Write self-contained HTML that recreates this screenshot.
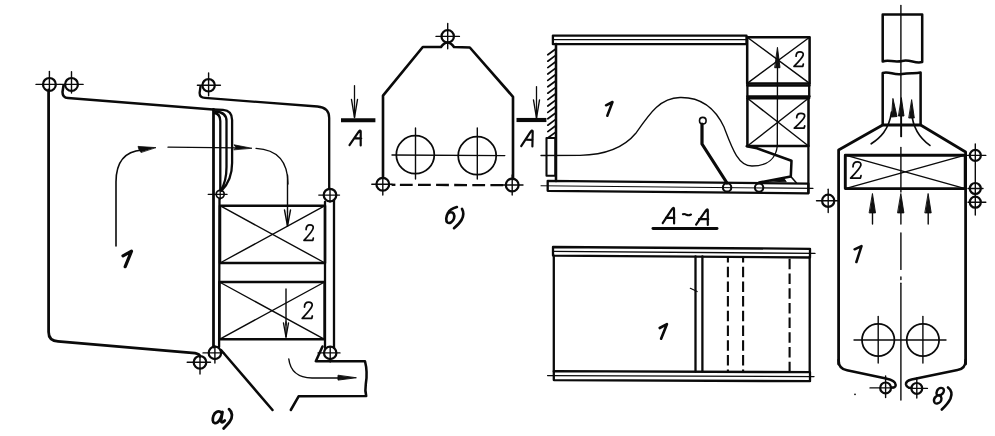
<!DOCTYPE html>
<html><head><meta charset="utf-8"><style>
html,body{margin:0;padding:0;background:#fff;}
svg{display:block;}
text{font-family:"Liberation Sans",sans-serif;}
</style></head><body>
<svg width="995" height="436" viewBox="0 0 995 436">
<rect width="995" height="436" fill="#fff"/>
<g fill="none" stroke="#0a0a0a" stroke-linecap="round" stroke-linejoin="round">
<circle cx="49.4" cy="84.4" r="6.4" stroke-width="2.24"/>
<line x1="36" y1="84.4" x2="60" y2="84.4" stroke-width="1.4" />
<line x1="49.4" y1="71.4" x2="49.4" y2="90" stroke-width="1.4" />
<circle cx="71.5" cy="84.4" r="6.4" stroke-width="2.24"/>
<line x1="60" y1="84.4" x2="83.1" y2="84.4" stroke-width="1.4" />
<line x1="71.5" y1="71.7" x2="71.5" y2="93" stroke-width="1.4" />
<path d="M48.6 90 L48.6 332 Q48.6 341 58 341.3 L195 353.2 Q199.5 354 200 356.5" stroke-width="2.76" />
<path d="M63.5 85.5 L62.5 92 Q62.5 97.8 68 98 L213 109.4" stroke-width="2.53" />
<circle cx="208.6" cy="85.3" r="6.2" stroke-width="2.24"/>
<line x1="197.4" y1="85.3" x2="220.4" y2="85.3" stroke-width="1.4" />
<line x1="208.6" y1="73" x2="208.6" y2="95.8" stroke-width="1.4" />
<path d="M200.5 86.5 L199.6 93 Q199.6 97.7 205 97.9 L317.5 106.5 Q329.2 107.4 329.2 118 L329.2 189" stroke-width="2.3" />
<line x1="213.5" y1="109.5" x2="213.5" y2="347" stroke-width="2.76" />
<path d="M213.5 109.5 L223 109.9 Q232.1 110.6 232.1 120 L232.1 163 Q232.1 180 221.5 190.8" stroke-width="2.3" />
<path d="M215.5 111.5 Q226.5 112.2 226.5 121 L226.5 167 Q226.5 181 221 190.3" stroke-width="2.3" />
<path d="M214.5 113 Q220.3 114 220.3 121 L220.3 190" stroke-width="2.3" />
<circle cx="220.2" cy="194.3" r="4.0" stroke-width="1.7"/>
<line x1="208.2" y1="194.3" x2="227.1" y2="194.3" stroke-width="1.3" />
<line x1="220.2" y1="189" x2="220.2" y2="199" stroke-width="1.3" />
<circle cx="330" cy="195.1" r="6.3" stroke-width="2.24"/>
<line x1="318.8" y1="195.1" x2="339.5" y2="195.1" stroke-width="1.4" />
<line x1="330" y1="189" x2="330" y2="202" stroke-width="1.4" />
<line x1="219.5" y1="199" x2="219.1" y2="347" stroke-width="2.3" />
<line x1="325" y1="202" x2="325" y2="348" stroke-width="2.3" />
<line x1="334" y1="200" x2="334" y2="348" stroke-width="2.3" />
<rect x="220" y="205.7" width="105" height="57.3" stroke-width="2.53"/>
<line x1="220" y1="205.7" x2="325" y2="263" stroke-width="1.4" />
<line x1="325" y1="205.7" x2="220" y2="263" stroke-width="1.4" />
<rect x="219.4" y="282" width="105.2" height="57.3" stroke-width="2.53"/>
<line x1="219.4" y1="282" x2="324.6" y2="339.3" stroke-width="1.4" />
<line x1="324.6" y1="282" x2="219.4" y2="339.3" stroke-width="1.4" />
<line x1="287.5" y1="175" x2="287.5" y2="212" stroke-width="1.4" />
<path d="M284.5 210.0 L287.5 226.0 L290.5 210.0" stroke-width="1.4"/>
<line x1="287.5" y1="212" x2="287.5" y2="226" stroke-width="1.4" />
<line x1="286" y1="289" x2="286" y2="325" stroke-width="1.4" />
<path d="M283.5 323.0 L286.0 337.0 L288.5 323.0" stroke-width="1.4"/>
<line x1="286" y1="322" x2="286" y2="337" stroke-width="1.4" />
<path d="M306.1 229.6 C306.1 226.5 308.0 224.9 310.0 224.9 C312.1 224.9 313.5 225.8 313.2 228.0 C312.8 230.8 308.3 235.8 304.0 240.4 L312.8 240.4 L313.3 238.1" stroke-width="1.75" />
<path d="M304.5 307.1 C304.5 303.8 306.6 302.2 308.8 302.2 C310.9 302.2 312.5 303.2 312.2 305.4 C311.8 308.4 306.9 313.5 302.2 318.4 L311.8 318.4 L312.3 316.0" stroke-width="1.75" />
<circle cx="214.9" cy="352.9" r="6.2" stroke-width="2.24"/>
<line x1="203" y1="352.9" x2="224" y2="352.9" stroke-width="1.4" />
<line x1="214.9" y1="346" x2="214.9" y2="363" stroke-width="1.4" />
<circle cx="200" cy="362.3" r="6.3" stroke-width="2.24"/>
<line x1="187.2" y1="362.3" x2="210.5" y2="362.3" stroke-width="1.4" />
<line x1="200" y1="356" x2="200" y2="374" stroke-width="1.4" />
<circle cx="330.2" cy="352.9" r="6.2" stroke-width="2.24"/>
<line x1="318" y1="352.9" x2="340" y2="352.9" stroke-width="1.4" />
<line x1="330.2" y1="347" x2="330.2" y2="362" stroke-width="1.4" />
<path d="M322.5 346.5 L315.8 361.2 L365 361.2 Q367.8 372 365.8 384 Q364.8 391 366.2 396 L298.6 396.3 L290.8 410" stroke-width="2.53" />
<line x1="221" y1="350" x2="272.5" y2="410" stroke-width="2.53" />
<path d="M288.8 359 Q291 377.5 312 378 L345 378" stroke-width="1.4" />
<path d="M356.0 377.8 L338.0 380.1 L338.0 375.6 Z" fill="#111" stroke-width="0.92"/>
<path d="M116 246 L116 182 Q116 152 142 150" stroke-width="1.6" />
<path d="M155.6 147.6 L138 146.4 L139 149.5 L140.8 152.2 Z" stroke-width="0.8" fill="#0a0a0a"/>
<path d="M168 147.2 L236 147.8" stroke-width="1.3" />
<path d="M251.6 148.2 L234 144.8 L236 147.5 L234 149.6 Z" stroke-width="0.8" fill="#0a0a0a"/>
<path d="M256 148.3 Q288 150 288 184" stroke-width="1.3" />
<path d="M123 255.8 L131.5 251.2 L125.2 266.7" stroke-width="3.22" />
<path d="M222.3 414 C221 411.5 218.5 411 216.5 412 C213.5 413.5 212.5 418 212.8 420.5 C213 423.2 215.5 423.8 217.5 422.3 C219.5 420.8 221.5 417 222.5 412 L221.2 419.5 C220.8 422.5 222 423.5 224.8 420.5" stroke-width="2.76" />
<path d="M229 409.2 C232.5 412 233.2 417.5 229.5 422 C227.5 424.5 225.5 426.5 223.6 428.5" stroke-width="2.76" />
<line x1="341" y1="120.3" x2="375.4" y2="120.3" stroke-width="3.91" stroke-linecap="butt"/>
<line x1="354.5" y1="85.7" x2="354.5" y2="117.5" stroke-width="1.3" />
<path d="M351.5 99.5 L354.5 117.5 L357.5 99.5" stroke-width="1.4"/>
<path d="M349.5 145.1 L358.2 132.4 Q360.4 129.3 360.7 131.4 L360.7 145.4 M354.3 138.2 L361.2 138.5" stroke-width="2.18" />
<line x1="516.5" y1="120" x2="546.4" y2="120" stroke-width="4.14" stroke-linecap="butt"/>
<line x1="536.5" y1="86.7" x2="536.5" y2="118" stroke-width="1.3" />
<path d="M533.5 100.0 L536.5 118.0 L539.5 100.0" stroke-width="1.4"/>
<path d="M521.2 146.2 L530.1999999999999 132.4 Q532.4 129.3 532.6999999999999 131.4 L532.4 146.5 M526.6 139.6 L532.7 139.8" stroke-width="2.18" />
<path d="M383 178 L383 95.7 L422.8 47 L441 47 Q447.5 38 454 47 L469.8 47.5 L513 96.8 L513 179" stroke-width="2.64" />
<circle cx="447.7" cy="36.4" r="6.2" stroke-width="2.24"/>
<line x1="436" y1="36.4" x2="459.4" y2="36.4" stroke-width="1.4" />
<line x1="447.7" y1="23.4" x2="447.7" y2="48.7" stroke-width="1.4" />
<circle cx="415.3" cy="154.7" r="19.0" stroke-width="1.75"/>
<circle cx="477.2" cy="155.7" r="19.0" stroke-width="1.75"/>
<line x1="392" y1="155" x2="504.8" y2="155.6" stroke-width="1.4" />
<line x1="415.5" y1="128" x2="415.5" y2="179" stroke-width="1.4" />
<line x1="477.3" y1="128" x2="477.3" y2="179" stroke-width="1.4" />
<circle cx="382.8" cy="184.2" r="6.4" stroke-width="2.24"/>
<line x1="371.8" y1="184.2" x2="392" y2="184.2" stroke-width="1.4" />
<line x1="382.8" y1="175" x2="382.8" y2="195" stroke-width="1.4" />
<circle cx="512.2" cy="185" r="6.4" stroke-width="2.24"/>
<line x1="503" y1="185" x2="523" y2="185" stroke-width="1.4" />
<line x1="512.2" y1="175" x2="512.2" y2="195" stroke-width="1.4" />
<line x1="391.6" y1="184.8" x2="395.4" y2="184.8" stroke-width="2.3" stroke-linecap="butt"/>
<line x1="399.9" y1="184.9" x2="504" y2="185.1" stroke-width="2.3" stroke-linecap="butt" stroke-dasharray="12.8 5.3"/>
<path d="M456.9 207 C453 208 449.5 209.5 448 213 C446 216.5 445.5 221 447.5 222.5 C449.5 223.8 453 222 454 218.5 C455 215 453.5 212 450.5 212.3 C449 212.5 448 213.5 448 213.5" stroke-width="2.64" />
<path d="M462 208.8 C463.8 212 463.8 216 461.5 220 C459.5 223.5 456.5 226 454 228.2" stroke-width="2.64" />
<rect x="552.9" y="35.6" width="193.6" height="8.6" stroke-width="2.30"/>
<line x1="552.9" y1="39.6" x2="746.4" y2="39.6" stroke-width="1.3" />
<line x1="556" y1="44" x2="556" y2="181" stroke-width="2.53" />
<line x1="555.3" y1="49.2" x2="547.8" y2="54.800000000000004" stroke-width="1.7" />
<line x1="555.3" y1="55.6" x2="547.8" y2="61.2" stroke-width="1.7" />
<line x1="555.3" y1="62.0" x2="547.8" y2="67.6" stroke-width="1.7" />
<line x1="555.3" y1="68.4" x2="547.8" y2="74.0" stroke-width="1.7" />
<line x1="555.3" y1="74.80000000000001" x2="547.8" y2="80.4" stroke-width="1.7" />
<line x1="555.3" y1="81.2" x2="547.8" y2="86.8" stroke-width="1.7" />
<line x1="555.3" y1="87.60000000000001" x2="547.8" y2="93.2" stroke-width="1.7" />
<line x1="555.3" y1="94.0" x2="547.8" y2="99.6" stroke-width="1.7" />
<line x1="555.3" y1="100.4" x2="547.8" y2="106.0" stroke-width="1.7" />
<line x1="555.3" y1="106.80000000000001" x2="547.8" y2="112.4" stroke-width="1.7" />
<line x1="555.3" y1="113.2" x2="547.8" y2="118.8" stroke-width="1.7" />
<line x1="555.3" y1="119.60000000000001" x2="547.8" y2="125.2" stroke-width="1.7" />
<line x1="555.3" y1="126.00000000000001" x2="547.8" y2="131.60000000000002" stroke-width="1.7" />
<line x1="555.3" y1="132.4" x2="547.8" y2="138.0" stroke-width="1.7" />
<rect x="546.5" y="138" width="8.8" height="37.7" stroke-width="2.07"/>
<path d="M547.7 180.8 L808.4 183.6 L808.4 193.3 L547.7 190.8 Z" stroke-width="2.3" />
<path d="M541 185.8 L813 188.4" stroke-width="1.1" />
<rect x="747.2" y="37.2" width="62.4" height="46.2" stroke-width="2.53"/>
<line x1="747.2" y1="37.2" x2="809.6" y2="83.4" stroke-width="1.4" />
<line x1="809.6" y1="37.2" x2="747.2" y2="83.4" stroke-width="1.4" />
<line x1="747.2" y1="85.5" x2="809.6" y2="85.5" stroke-width="2.3" />
<line x1="747.2" y1="96.3" x2="809.6" y2="96.3" stroke-width="2.3" />
<rect x="747.4" y="98.3" width="61.1" height="47.7" stroke-width="2.53"/>
<line x1="747.4" y1="98.3" x2="808.5" y2="146" stroke-width="1.4" />
<line x1="808.5" y1="98.3" x2="747.4" y2="146" stroke-width="1.4" />
<line x1="747.4" y1="83.4" x2="747.4" y2="98.3" stroke-width="2.3" />
<line x1="809.2" y1="83.4" x2="809.2" y2="98.3" stroke-width="2.3" />
<line x1="808.4" y1="146" x2="808.4" y2="193" stroke-width="2.3" />
<path d="M746.7 146.2 L757 148.3 L791.5 160.7 L790.8 176.5 L759.1 182.5" stroke-width="2.53" />
<line x1="790.8" y1="176.5" x2="796.3" y2="182.7" stroke-width="1.6" />
<path d="M770 181 L784 178.5 L786 181.5 Z" stroke-width="1" fill="#0a0a0a"/>
<path d="M541 155.5 L580 155.3 C600 155 622 150 636 133 C650 113 660 98 680 97.5 C703 97 716 110 724 127 C732 148 738 166 752 166 C768 166 776 158 777.3 146 L777.5 62" stroke-width="1.35" />
<path d="M777.5 47.7 L780.0 67.7 L775.0 67.7 Z" fill="#111" stroke-width="0.92"/>
<circle cx="702.8" cy="120.7" r="3.3" stroke-width="1.6"/>
<path d="M702 124 L702 144 L727 183" stroke-width="3.22" />
<circle cx="727.1" cy="187.4" r="4.2" stroke-width="2.07"/>
<circle cx="759.1" cy="187.6" r="4.2" stroke-width="2.07"/>
<path d="M606 105.3 L612.5 102 L607.3 115.7" stroke-width="2.53" />
<path d="M796.1 56.2 C796.1 53.3 798.0 51.9 800.0 51.9 C802.1 51.9 803.5 52.8 803.2 54.8 C802.8 57.4 798.3 62.0 794.0 66.3 L802.8 66.3 L803.3 64.1" stroke-width="1.75" />
<path d="M796.7 117.7 C796.7 114.8 798.8 113.3 801.0 113.3 C803.3 113.3 804.9 114.2 804.6 116.3 C804.1 118.9 799.1 123.7 794.3 128.1 L804.1 128.1 L804.7 125.9" stroke-width="1.75" />
<path d="M662.7 223.1 L671.5 209.8 Q673.7 206.70000000000002 674.0 208.8 L674.1 223.5 M666 217.6 L674.4 218" stroke-width="2.18" />
<path d="M682.9 214.2 Q684.5 213.5 686.5 214.8 Q688.5 215.8 691 214.5" stroke-width="2.07" />
<path d="M696.1 224.6 L705.3 211.3 Q707.5 208.20000000000002 707.8 210.3 L707.8 225 M699 219 L708.2 219.2" stroke-width="2.18" />
<line x1="653" y1="228.5" x2="717" y2="228.5" stroke-width="2.99" />
<path d="M553 247 L810 248.8 L810 257.5 L553 255.6 Z" stroke-width="2.3" />
<line x1="553" y1="251.3" x2="815" y2="253.4" stroke-width="1.3" />
<path d="M553.8 371.2 L810 372.2 L810 381.2 L553.8 380.1 Z" stroke-width="2.3" />
<line x1="547.6" y1="375.6" x2="814" y2="376.6" stroke-width="1.4" />
<line x1="553.8" y1="255.6" x2="553.8" y2="371.6" stroke-width="2.3" />
<line x1="695.5" y1="256.5" x2="695.5" y2="371.6" stroke-width="2.3" />
<line x1="702.4" y1="256.5" x2="702.4" y2="371.6" stroke-width="2.3" />
<line x1="727.9" y1="257" x2="727.9" y2="371" stroke-width="2.1" stroke-linecap="butt" stroke-dasharray="10.5 4.2" stroke-dashoffset="5"/>
<line x1="743.1" y1="257" x2="743.1" y2="371" stroke-width="2.1" stroke-linecap="butt" stroke-dasharray="10.5 4.2" stroke-dashoffset="5"/>
<line x1="789.6" y1="258.8" x2="789.6" y2="371" stroke-width="2.1" stroke-linecap="butt" stroke-dasharray="10.5 4.2" stroke-dashoffset="0"/>
<line x1="809.7" y1="257" x2="809.7" y2="372" stroke-width="2.3" />
<line x1="690.3" y1="288.3" x2="697.2" y2="291.6" stroke-width="1.1" />
<path d="M659.7 328 L666.9 324.2 L661.1 338.7" stroke-width="2.64" />
<line x1="900.9" y1="5.5" x2="900.9" y2="136.6" stroke-width="1.4" />
<line x1="900.9" y1="147.5" x2="900.9" y2="192" stroke-width="1.4" />
<line x1="900.9" y1="233" x2="900.9" y2="269.4" stroke-width="1.4" />
<line x1="900.9" y1="277" x2="900.9" y2="279.5" stroke-width="1.4" />
<line x1="900.9" y1="283.3" x2="900.9" y2="400" stroke-width="1.4" />
<path d="M882.7 61.5 L882.7 14.6 L922.2 14.6 L922.2 62 C915 64 910 59 902 61 C893 63 889 59 882.7 61.5" stroke-width="2.53" />
<path d="M882.7 125 L882.7 73 C889 71 894 75.5 902 74 C910 72.5 915 74 920.6 72.6 L920.6 125" stroke-width="2.53" />
<path d="M838.6 364 L838.6 150 L882.7 125 L920.6 125 L965.6 152 L965.6 364" stroke-width="2.76" />
<line x1="901.4" y1="136.6" x2="901.4" y2="112" stroke-width="1.4" />
<path d="M901.4 98.0 L904.0 116.0 L898.8 116.0 Z" fill="#111" stroke-width="0.92"/>
<path d="M871.2 143.8 C880 138 889 130 891.5 112" stroke-width="1.7" />
<path d="M893.0 98.8 L897.0 116.5 L891.8 117.0 Z" fill="#111" stroke-width="0.92"/>
<path d="M929.9 145.4 C921 139 913 130 911.7 113" stroke-width="1.7" />
<path d="M911.7 100.0 L914.3 118.0 L909.1 118.0 Z" fill="#111" stroke-width="0.92"/>
<rect x="845.3" y="155.2" width="119.9" height="33.4" stroke-width="2.9"/>
<line x1="845.3" y1="155.2" x2="965.2" y2="188.6" stroke-width="1.4" />
<line x1="965.2" y1="155.2" x2="845.3" y2="188.6" stroke-width="1.4" />
<path d="M853.0 166.8 C853.0 163.5 855.1 161.9 857.3 161.9 C859.6 161.9 861.2 162.9 860.9 165.1 C860.4 168.1 855.4 173.2 850.6 178.1 L860.4 178.1 L861.0 175.7" stroke-width="1.75" />
<circle cx="975.3" cy="155.4" r="5.5" stroke-width="2.24"/>
<line x1="967.5" y1="155.4" x2="985.8" y2="155.4" stroke-width="1.4" />
<line x1="975.3" y1="144" x2="975.3" y2="161" stroke-width="1.4" />
<circle cx="975.3" cy="188.5" r="5.5" stroke-width="2.24"/>
<line x1="968" y1="188.5" x2="983" y2="188.5" stroke-width="1.4" />
<line x1="975.3" y1="161" x2="975.3" y2="195" stroke-width="1.4" />
<circle cx="975.3" cy="202.2" r="5.5" stroke-width="2.24"/>
<line x1="968" y1="202.2" x2="985.8" y2="202.2" stroke-width="1.4" />
<line x1="975.3" y1="195" x2="975.3" y2="215" stroke-width="1.4" />
<circle cx="828.2" cy="200.8" r="6.1" stroke-width="2.24"/>
<line x1="816.5" y1="200.8" x2="838" y2="200.8" stroke-width="1.4" />
<line x1="828.2" y1="189.3" x2="828.2" y2="212.5" stroke-width="1.4" />
<line x1="872.5" y1="224" x2="872.5" y2="208" stroke-width="1.4" />
<path d="M872.5 193.9 L875.5 212.9 L869.5 212.9 Z" fill="#111" stroke-width="0.92"/>
<line x1="900.9" y1="224" x2="900.9" y2="208" stroke-width="1.4" />
<path d="M900.9 193.9 L903.9 212.9 L897.9 212.9 Z" fill="#111" stroke-width="0.92"/>
<line x1="928.2" y1="224" x2="928.2" y2="208" stroke-width="1.4" />
<path d="M928.2 193.9 L931.2 212.9 L925.2 212.9 Z" fill="#111" stroke-width="0.92"/>
<path d="M838.6 360 Q838.6 369 847 370.2 L886 378.6 Q895.5 380.5 895.7 385 Q895.5 388 891.3 387.5" stroke-width="2.53" />
<path d="M965.6 360 Q965.6 369 957.5 370 L911.5 379.5 Q905.5 381 906 384.5 Q907 388 911.5 388" stroke-width="2.53" />
<circle cx="878.2" cy="340" r="16.2" stroke-width="1.75"/>
<circle cx="922.9" cy="340" r="16.2" stroke-width="1.75"/>
<line x1="854" y1="340" x2="946" y2="340" stroke-width="1.4" />
<line x1="878.2" y1="316.4" x2="878.2" y2="363" stroke-width="1.4" />
<line x1="922.9" y1="316.4" x2="922.9" y2="363" stroke-width="1.4" />
<circle cx="885.6" cy="387.9" r="5.4" stroke-width="2.24"/>
<line x1="870" y1="387.9" x2="893" y2="387.9" stroke-width="1.4" />
<line x1="885.6" y1="376" x2="885.6" y2="397.5" stroke-width="1.4" />
<circle cx="916.8" cy="388.4" r="5.4" stroke-width="2.24"/>
<line x1="909" y1="388.4" x2="927.4" y2="388.4" stroke-width="1.4" />
<line x1="916.8" y1="378" x2="916.8" y2="398" stroke-width="1.4" />
<path d="M854.6 249.3 L861.5 246.1 L856.4 262" stroke-width="2.53" />
<circle cx="855" cy="394.3" r="0.9" fill="#0a0a0a" stroke="none"/>
<path d="M937 395.5 C935.5 392.5 937.5 388 941 387.9 C943.5 387.8 944.6 390 943.5 392.3 C942.5 394.5 939.5 395.5 937 395.5 C934.5 397.5 933.5 400.5 934.5 402.5 C935.5 404.2 938.5 403.8 940.2 402 C942 400 942 396.5 939.5 395.3" stroke-width="2.42" />
<path d="M948 387.5 C951.3 390 952.3 394 950.5 398.5 C948.5 403 945 406.5 941.8 409.5" stroke-width="2.64" />
</g>
</svg>
</body></html>
